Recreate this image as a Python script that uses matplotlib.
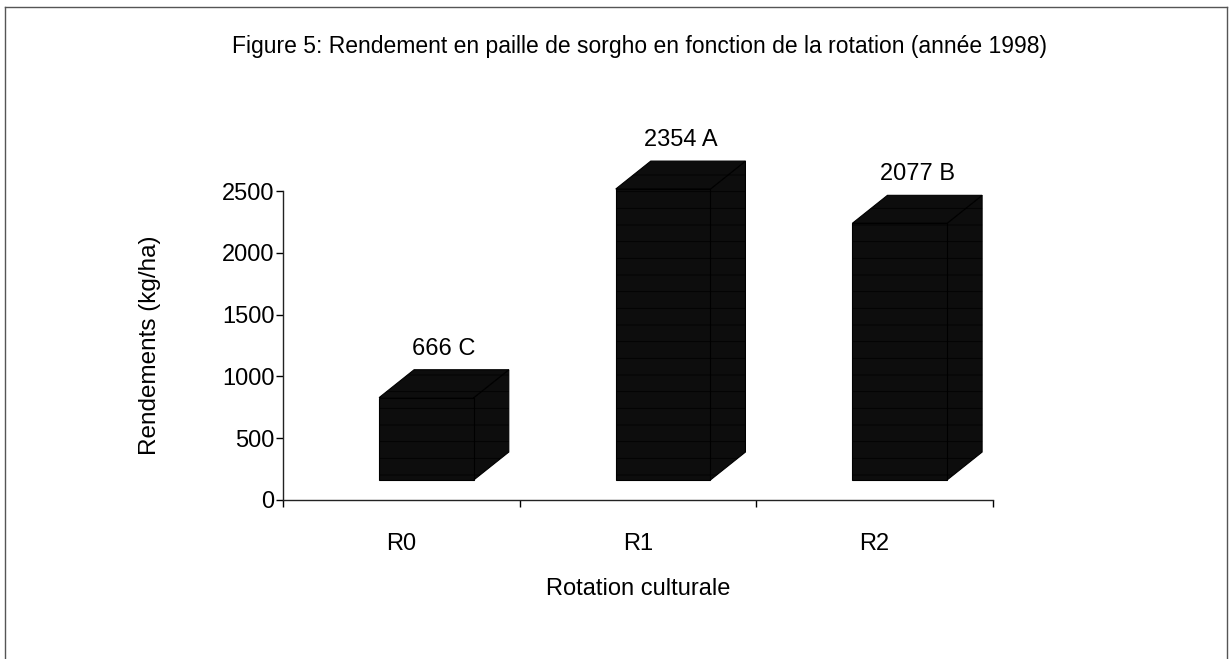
import matplotlib
matplotlib.use("Agg")
import matplotlib.pyplot as plt
from matplotlib.patches import Polygon, Rectangle
from matplotlib.lines import Line2D

categories = ["R0", "R1", "R2"]
values = [666, 2354, 2077]
letters = ["C", "A", "B"]
yticks = [0, 500, 1000, 1500, 2000, 2500]

title = "Figure 5: Rendement en paille de sorgho en fonction de la rotation (année 1998)"
ylabel = "Rendements (kg/ha)"
xlabel = "Rotation culturale"

plt.rcParams['font.family'] = ['Liberation Sans', 'DejaVu Sans']
plt.rcParams['hatch.color'] = '#4a4a4a'
plt.rcParams['hatch.linewidth'] = 0.5

W, H = 1230, 659
fig = plt.figure(figsize=(W / 100, H / 100), dpi=100)
fig.patch.set_facecolor('white')

ax_l, ax_r, ax_b, ax_t = 283, 993, 500, 191
ax = fig.add_axes([ax_l / W, 1 - ax_b / H, (ax_r - ax_l) / W, (ax_b - ax_t) / H])
ax.set_xlim(0, len(categories))
ax.set_ylim(0, 2500)

# 3D-like geometry (in data units)
off = 0.406      # front face left offset within category
bw = 0.40        # front face width
dx = 0.148       # depth x shift
dy = 226         # depth y shift
floor = 162      # floor elevation

face = '#0d0d0d'
for i, v in enumerate(values):
    x0 = i + off
    x1 = x0 + bw
    y0 = floor
    y1 = floor + v
    front = Rectangle((x0, y0), bw, v, facecolor=face, edgecolor='black',
                      hatch='-', lw=0.8, clip_on=False, zorder=3)
    top = Polygon([(x0, y1), (x0 + dx, y1 + dy), (x1 + dx, y1 + dy), (x1, y1)],
                  closed=True, facecolor=face, edgecolor='black', hatch='-',
                  lw=0.8, clip_on=False, zorder=3)
    side = Polygon([(x1, y0), (x1 + dx, y0 + dy), (x1 + dx, y1 + dy), (x1, y1)],
                   closed=True, facecolor=face, edgecolor='black', hatch='-',
                   lw=0.8, clip_on=False, zorder=3)
    for p in (side, top, front):
        ax.add_patch(p)
    ax.text(x0 + (bw + dx) / 2, y1 + dy + 80, f"{v} {letters[i]}",
            ha='center', va='bottom', fontsize=17, clip_on=False)

for s in ['top', 'right']:
    ax.spines[s].set_visible(False)
for s in ['left', 'bottom']:
    ax.spines[s].set_linewidth(1.0)
    ax.spines[s].set_color('#222222')

ax.set_yticks(yticks)
ax.set_yticklabels([str(t) for t in yticks], fontsize=17)
ax.tick_params(axis='y', direction='out', length=5, width=1, pad=1)

ax.set_xticks(range(0, len(categories) + 1))
ax.set_xticklabels([])
ax.set_xticks([i + 0.5 for i in range(len(categories))], minor=True)
ax.set_xticklabels(categories, minor=True, fontsize=17)
ax.tick_params(axis='x', which='major', direction='out', length=5, width=1)
ax.tick_params(axis='x', which='minor', length=0, pad=24)

ax.set_ylabel(ylabel, fontsize=17.5, labelpad=44)
ax.set_xlabel(xlabel, fontsize=17, labelpad=16)

fig.text(639 / W, 1 - 47 / H, title, ha='center', va='center', fontsize=16.5)

# outer frame (top, left, right)
fc = '#555555'
fig.add_artist(Line2D([5 / W, 1227 / W], [1 - 7 / H, 1 - 7 / H],
                      transform=fig.transFigure, color=fc, lw=1.0))
fig.add_artist(Line2D([5 / W, 5 / W], [0, 1 - 7 / H],
                      transform=fig.transFigure, color=fc, lw=1.0))
fig.add_artist(Line2D([1227 / W, 1227 / W], [0, 1 - 7 / H],
                      transform=fig.transFigure, color=fc, lw=1.0))

fig.savefig("out.png", dpi=100)
